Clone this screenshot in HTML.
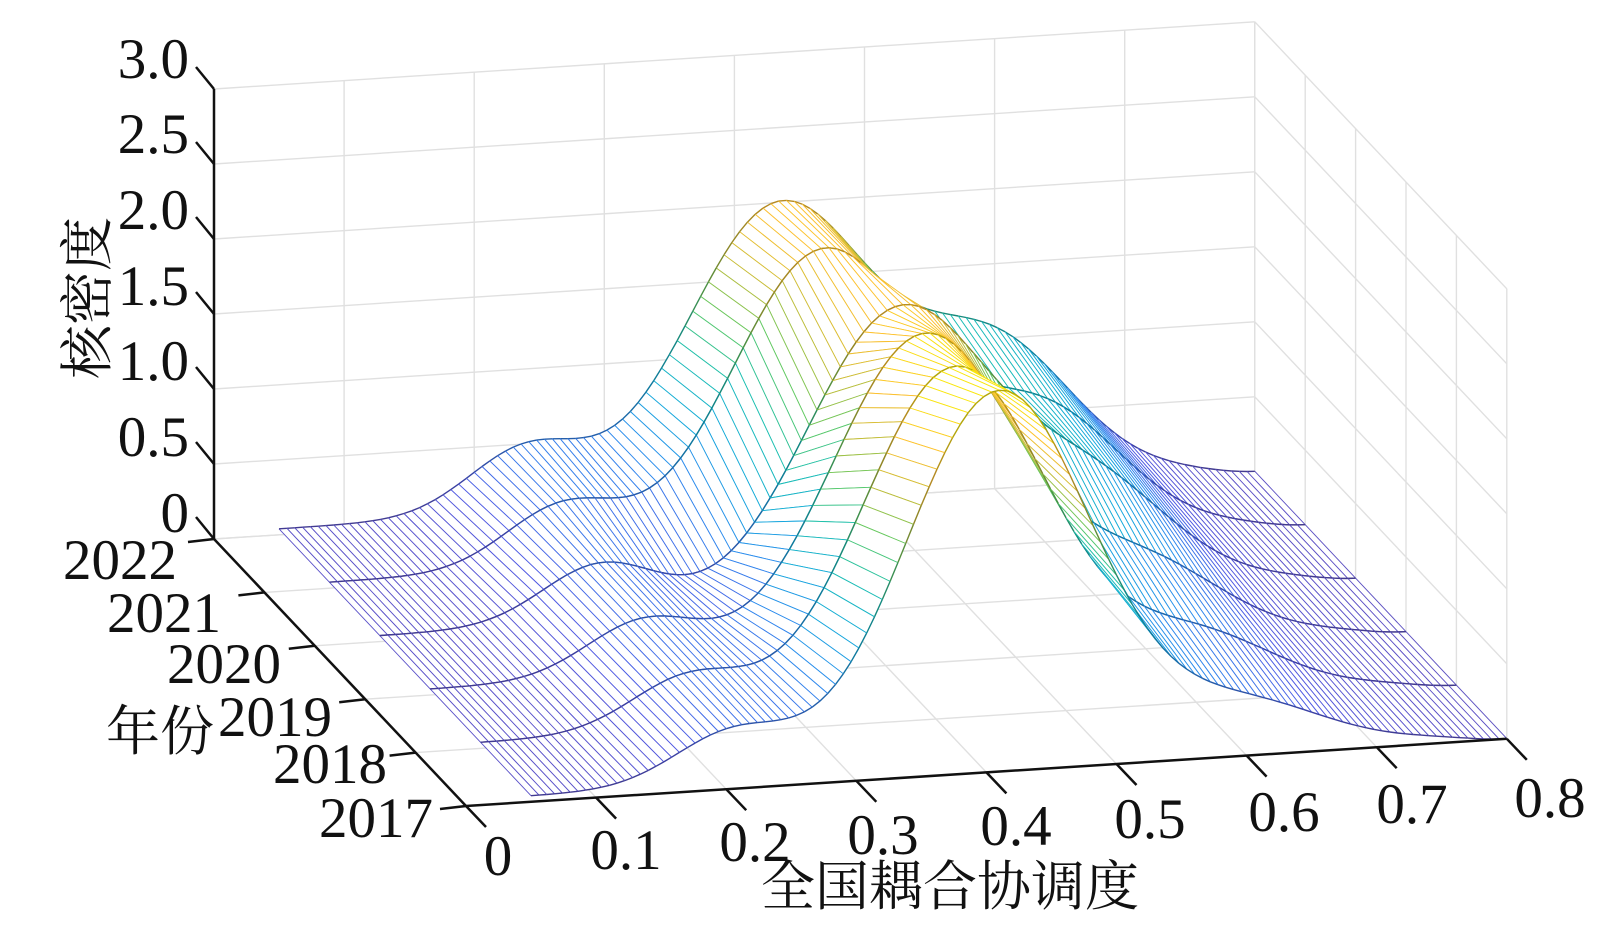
<!DOCTYPE html>
<html><head><meta charset="utf-8">
<style>
html,body{margin:0;padding:0;background:#fff;}
svg{display:block;}
text{font-family:"Liberation Serif","Noto Serif CJK SC",serif;fill:#111;}
</style></head>
<body>
<svg id="s" width="1606" height="942" viewBox="0 0 1606 942" xmlns="http://www.w3.org/2000/svg">
<g id="grid" stroke="#e0e0e0" stroke-width="1.4" fill="none"></g>
<g id="surf"></g>
<g id="axes" stroke="#111" stroke-width="2.5" fill="none"></g>
<g font-size="57" text-anchor="end">
<text x="189" y="78">3.0</text>
<text x="189" y="153">2.5</text>
<text x="189" y="229">2.0</text>
<text x="189" y="305">1.5</text>
<text x="189" y="380">1.0</text>
<text x="189" y="456">0.5</text>
<text x="189" y="532">0</text>
<text x="177" y="579">2022</text>
<text x="221" y="632">2021</text>
<text x="281" y="683">2020</text>
<text x="332" y="736">2019</text>
<text x="387" y="783">2018</text>
<text x="433" y="837">2017</text>
</g>
<g font-size="57" text-anchor="middle">
<text x="498" y="875">0</text>
<text x="626" y="869">0.1</text>
<text x="755" y="861">0.2</text>
<text x="883" y="854">0.3</text>
<text x="1016" y="845">0.4</text>
<text x="1150" y="838">0.5</text>
<text x="1284" y="831">0.6</text>
<text x="1412" y="823">0.7</text>
<text x="1550" y="817">0.8</text>
</g>
<text x="160" y="750" font-size="54" text-anchor="middle">年份</text>
<text x="950" y="905" font-size="54" text-anchor="middle">全国耦合协调度</text>
<text transform="translate(106,298) rotate(-90)" font-size="54" text-anchor="middle">核密度</text>
</svg>
<script>
var NS="http://www.w3.org/2000/svg";
var O=[466,806], EX=[1301,-84], EY=[-50.4,-53.4], EZ=150;
function P(x,j,z){return [O[0]+x*EX[0]+j*EY[0], O[1]+x*EX[1]+j*EY[1]-z*EZ];}
function line(g,a,b,c,w){var l=document.createElementNS(NS,"line");l.setAttribute("x1",a[0].toFixed(1));l.setAttribute("y1",a[1].toFixed(1));l.setAttribute("x2",b[0].toFixed(1));l.setAttribute("y2",b[1].toFixed(1));if(c)l.setAttribute("stroke",c);if(w)l.setAttribute("stroke-width",w);g.appendChild(l);}
var grid=document.getElementById("grid");
for(var i=0;i<=8;i++){line(grid,P(i/10,5,0),P(i/10,5,3));}
for(var k=0;k<=6;k++){line(grid,P(0,5,k/2),P(0.8,5,k/2));line(grid,P(0.8,0,k/2),P(0.8,5,k/2));}
for(var j=0;j<=5;j++){line(grid,P(0.8,j,0),P(0.8,j,3));line(grid,P(0,j,0),P(0.8,j,0));}
for(var i=0;i<=8;i++){line(grid,P(i/10,0,0),P(i/10,5,0));}
var ax=document.getElementById("axes");
line(ax,P(0,5,0),P(0,5,3));
line(ax,P(0,0,0),P(0,5,0));
line(ax,P(0,0,0),P(0.8,0,0));
for(var k=0;k<=6;k++){var p=P(0,5,k/2);line(ax,p,[p[0]-18,p[1]-22]);}
for(var j=0;j<=5;j++){var p=P(0,j,0);line(ax,p,[p[0]-26,p[1]+3]);}
for(var i=0;i<=8;i++){var p=P(i/10,0,0);line(ax,p,[p[0]+20,p[1]+21]);}
var A=[2.5,2.3,2.15,1.95,2.0,1.95], MU=[0.41,0.415,0.43,0.45,0.43,0.435];
var B=[0.33,0.34,0.36,0.38,0.4,0.42], BM=[0.205,0.21,0.215,0.22,0.23,0.24];
var S=[0.3,0.4,0.5,0.65,0.8,0.9];
function f(x,j){var g=function(m,s){return Math.exp(-(x-m)*(x-m)/(2*s*s));};
return 0.04+A[j]*g(MU[j],0.072)+B[j]*g(BM[j],0.045)+S[j]*g(0.6,0.06)-0.04*g(0.8,0.03);}
var stops=[[0,[92,80,196]],[0.12,[80,90,228]],[0.25,[45,139,238]],[0.37,[20,170,219]],[0.5,[28,191,176]],[0.62,[94,201,98]],[0.75,[198,188,54]],[0.87,[253,192,48]],[1,[249,230,14]]];
function rgb(z){var t=Math.max(0,Math.min(1,z/2.3));for(var i=1;i<stops.length;i++){if(t<=stops[i][0]){var a=stops[i-1],b=stops[i],u=(t-a[0])/(b[0]-a[0]);return [0,1,2].map(function(c){return Math.round(a[1][c]+(b[1][c]-a[1][c])*u);});}}return [249,230,14];}
function col(z){return "rgb("+rgb(z).join(",")+")";}
function colD(z){return "rgb("+rgb(z).map(function(v){return Math.round(v*0.72);}).join(",")+")";}
var surf=document.getElementById("surf");
var N=125, x0=0.05, x1=0.8, dx=(x1-x0)/N;
var html=[];
function L(a,b,c,w){return '<line x1="'+a[0].toFixed(1)+'" y1="'+a[1].toFixed(1)+'" x2="'+b[0].toFixed(1)+'" y2="'+b[1].toFixed(1)+'" stroke="'+c+'" stroke-width="'+w+'"/>';}
for(var j=4;j>=0;j--){
 for(var i=N-1;i>=0;i--){
  var xa=x0+i*dx, xb=xa+dx;
  var za=f(xa,j), zb=f(xb,j), zc=f(xb,j+1), zd=f(xa,j+1);
  var p1=P(xa,j,za),p2=P(xb,j,zb),p3=P(xb,j+1,zc),p4=P(xa,j+1,zd);
  var pts=[p1,p2,p3,p4].map(function(p){return p[0].toFixed(1)+","+p[1].toFixed(1);}).join(" ");
  html.push('<polygon points="'+pts+'" fill="#fff" stroke="none"/>');
  html.push(L(p1,p4,col((za+zd)/2),0.9));
  html.push(L(p2,p3,col((zb+zc)/2),0.9));
  html.push(L(p3,p4,colD((zc+zd)/2),1.4));
  html.push(L(p1,p2,colD((za+zb)/2),1.4));
 }
}
surf.innerHTML=html.join("");
</script>
</body></html>
